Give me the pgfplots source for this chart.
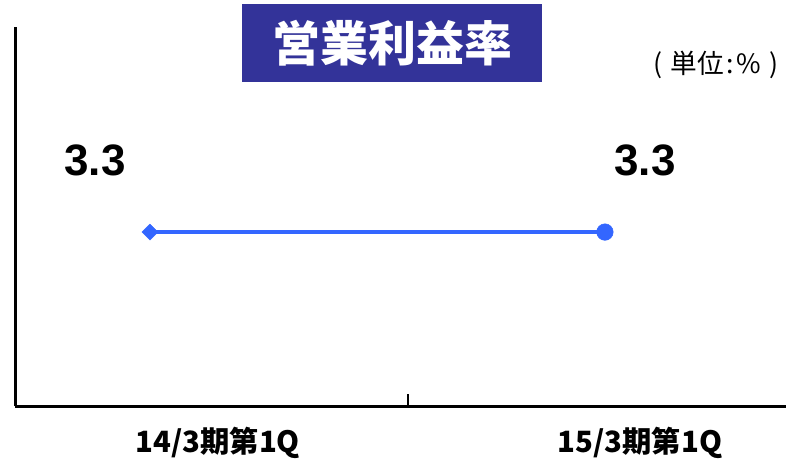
\documentclass[border=0pt]{standalone}
\usepackage{pgfplots}
\pgfplotsset{compat=1.18}
\usepackage{fontspec}
\setmainfont{Liberation Sans}
\newfontfamily\cjk{Noto Sans CJK JP}
\definecolor{boxblue}{HTML}{333399}
\definecolor{lineblue}{HTML}{3366FF}
\begin{document}
\begin{tikzpicture}[x=0.75pt,y=0.75pt]
\useasboundingbox (0,0) rectangle (787,464);
\begin{axis}[
at={(11.25pt,43.5pt)}, anchor=south west,
scale only axis,
width=578.25pt, height=284.25pt,
xmin=-0.2967, xmax=1.398,
ymin=0, ymax=7.19,
axis x line=bottom, axis y line=left,
axis line style={-, line width=2.25pt, black},
ytick=\empty,
xtick={0.149,1.077},
xticklabels={14/3期第1Q,15/3期第1Q},
major tick length=0pt,
xticklabel style={font=\cjk\bfseries\fontsize{22}{22}\selectfont, yshift=-12pt},
extra x ticks={0.567},
extra x tick labels={},
extra x tick style={tick align=inside, major tick length=9pt, tick style={line width=1pt, black}},
clip=false,
]
\addplot[lineblue, line width=3pt] coordinates {(0,3.3) (1,3.3)};
\addplot[lineblue, only marks, mark=square*, mark size=4.2pt, mark options={rotate=45}] coordinates {(0,3.3)};
\addplot[lineblue, only marks, mark=*, mark size=6.2pt] coordinates {(1,3.3)};
\node[font=\bfseries\fontsize{33}{33}\selectfont] at (axis cs:-0.121,4.667) {3.3};
\node[font=\bfseries\fontsize{33}{33}\selectfont] at (axis cs:1.088,4.667) {3.3};
\end{axis}
\node[fill=boxblue, minimum width=225pt, minimum height=58.5pt, text=white,
  font=\cjk\bfseries\fontsize{36}{36}\selectfont] at (392,421) {営業利益率};
\node[inner sep=0pt, font=\cjk\fontsize{20}{20}\selectfont] at (716,399) {(\hspace{0.3em}単位\hspace{0.1em}:\hspace{0.1em}\%\hspace{0.3em})};
\end{tikzpicture}
\end{document}
